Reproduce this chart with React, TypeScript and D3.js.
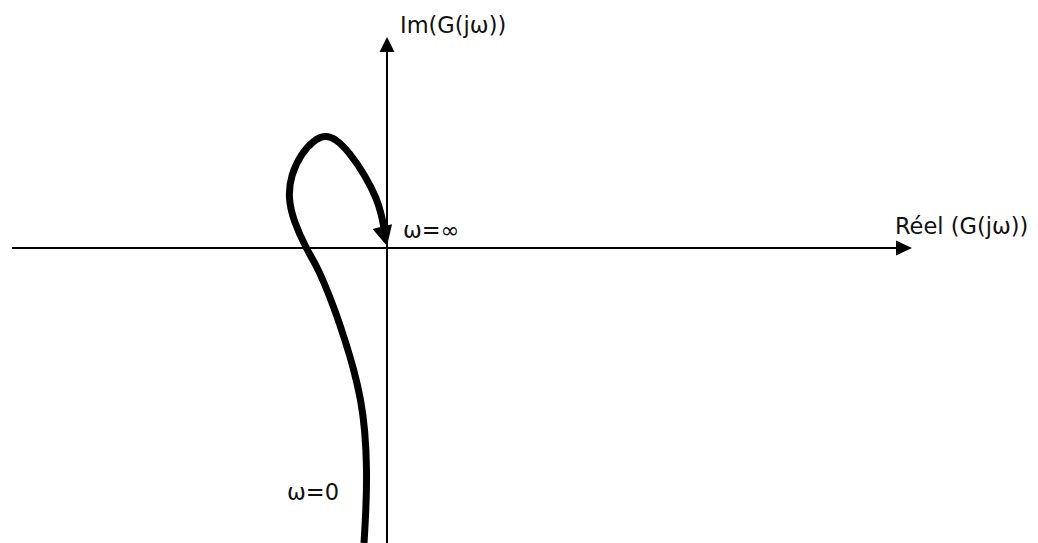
import React from "react";
import * as d3 from "d3";

const W = 1038;
const H = 543;

// Nyquist locus (Re, Im) from omega=0 (bottom) to omega=infinity (origin)
const locusRe = [-2.3, -2.1, -2.0, -2.2, -2.6, -3.3, -4.2, -5.2, -6.4, -7.1, -8.1, -9.3, -9.9, -9.6, -8.6, -7.3, -6.2, -5.1, -3.8, -2.2, -1.0, -0.55, -0.3];
const locusIm = [-29.5, -26.2, -22.2, -18.2, -15.2, -12.2, -9.2, -6.2, -3.2, -1.7, 0, 2.6, 5.0, 7.3, 9.4, 10.8, 11.3, 10.9, 9.6, 7.3, 4.9, 3.3, 2.0];
const arrowTip = [0, 0.2];

const xLabel = "Réel (G(jω))";
const yLabel = "Im(G(jω))";
const labelInf = "ω=∞";
const labelZero = "ω=0";

const xDomain = [-37.5, 52.5];
const yDomain = [-29.5, 21.1];

export default function App() {
  const x = d3.scaleLinear().domain(xDomain).range([12, 912]);
  const y = d3.scaleLinear().domain(yDomain).range([543, 37]);
  const pts: [number, number][] = locusRe.map((r, i) => [r, locusIm[i]]);
  const line = d3
    .line<[number, number]>()
    .x((d) => x(d[0]))
    .y((d) => y(d[1]))
    .curve(d3.curveBasis);

  // arrowhead on locus end
  const tx = x(arrowTip[0]);
  const ty = y(arrowTip[1]);
  const last = pts[pts.length - 1];
  const prev = pts[pts.length - 3];
  const ang = Math.atan2(y(last[1]) - y(prev[1]), x(last[0]) - x(prev[0]));
  const L = 20;
  const Wd = 10;
  const bx = tx - L * Math.cos(ang);
  const by = ty - L * Math.sin(ang);
  const px = -Math.sin(ang) * Wd;
  const py = Math.cos(ang) * Wd;
  const head = `M${tx},${ty}L${bx + px},${by + py}L${bx - px},${by - py}Z`;

  const x0 = x(0);
  const y0 = y(0);
  const font = "'DejaVu Sans', sans-serif";

  return (
    <svg
      width={W}
      height={H}
      style={{ position: "absolute", left: 0, top: 0, background: "#fff" }}
    >
      {/* horizontal axis */}
      <line x1={x(xDomain[0])} y1={y0} x2={x(xDomain[1]) - 14} y2={y0} stroke="#000" strokeWidth={2} />
      <path d={`M${x(xDomain[1])},${y0}L${x(xDomain[1]) - 16},${y0 - 7.5}L${x(xDomain[1]) - 16},${y0 + 7.5}Z`} fill="#000" />
      {/* vertical axis */}
      <line x1={x0} y1={y(yDomain[0])} x2={x0} y2={y(yDomain[1]) + 13} stroke="#000" strokeWidth={2} />
      <path d={`M${x0},${y(yDomain[1])}L${x0 - 7.5},${y(yDomain[1]) + 15}L${x0 + 7.5},${y(yDomain[1]) + 15}Z`} fill="#000" />

      {/* locus */}
      <path d={line(pts) || ""} fill="none" stroke="#000" strokeWidth={7} strokeLinecap="butt" strokeLinejoin="round" />
      <path d={head} fill="#000" />

      <text x={400} y={33} fontFamily={font} fontSize={22.5} fill="#111">{yLabel}</text>
      <text x={895} y={234} fontFamily={font} fontSize={22.5} fill="#111">{xLabel}</text>
      <text x={403} y={238} fontFamily={font} fontSize={22.5} fill="#111">{labelInf}</text>
      <text x={287} y={500} fontFamily={font} fontSize={22.5} fill="#111">{labelZero}</text>
    </svg>
  );
}
